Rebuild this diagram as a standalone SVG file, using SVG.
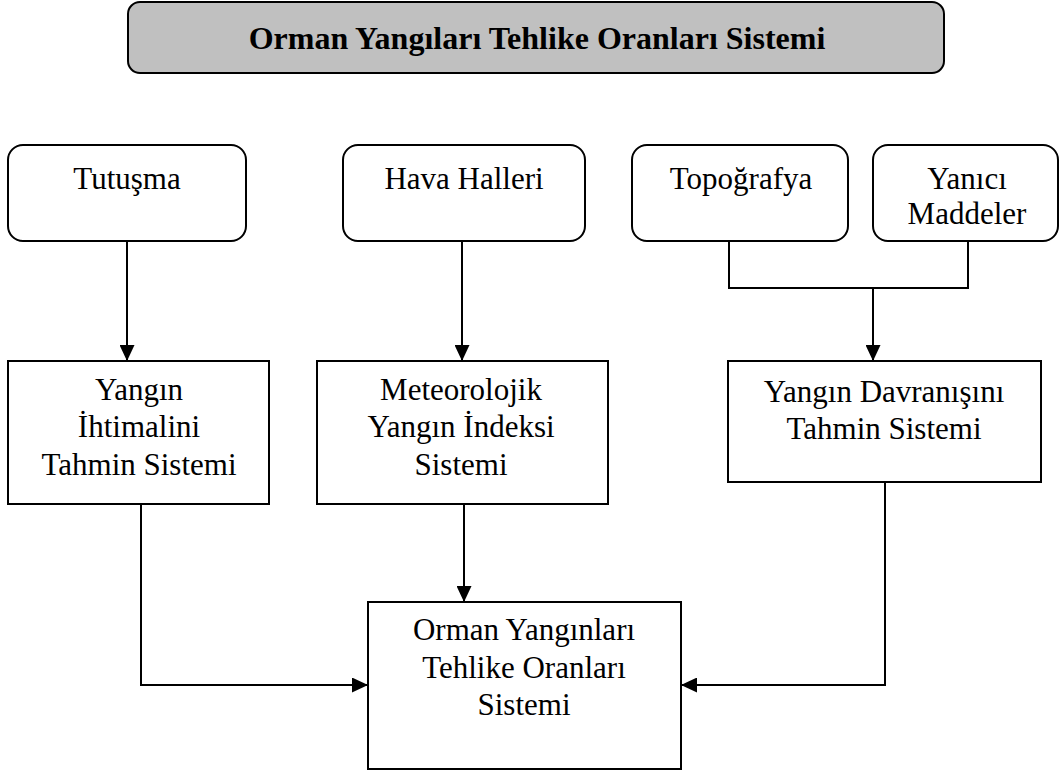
<svg xmlns="http://www.w3.org/2000/svg" width="1059" height="772" viewBox="0 0 1059 772">
<style>
.box{fill:#fff;stroke:#000;stroke-width:2}
.title{fill:#c0c0c0;stroke:#000;stroke-width:2}
.t{font-family:"Liberation Serif","Times New Roman",serif;font-size:31px;fill:#000;text-anchor:middle}
.tb{font-family:"Liberation Serif","Times New Roman",serif;font-size:32px;font-weight:bold;fill:#000;text-anchor:middle}
.c{fill:none;stroke:#000;stroke-width:2}
</style>
<defs>
<marker id="arr" markerUnits="userSpaceOnUse" markerWidth="16" markerHeight="15" refX="16" refY="7.5" orient="auto">
<path d="M0,0 L16,7.5 L0,15 z" fill="#000"/>
</marker>
</defs>
<rect width="1059" height="772" fill="#fff"/>
<g id="title">
<rect class="title" x="128" y="2" width="816" height="71" rx="12"/>
<text class="tb" x="537" y="49">Orman Yangıları Tehlike Oranları Sistemi</text>
</g>
<g id="connectors">
<path class="c" d="M127,241 V361" marker-end="url(#arr)"/>
<path class="c" d="M462,241 V361" marker-end="url(#arr)"/>
<path class="c" d="M729,241 V288 H968 V241"/>
<path class="c" d="M873,288 V361" marker-end="url(#arr)"/>
<path class="c" d="M464,504 V602" marker-end="url(#arr)"/>
<path class="c" d="M141,504 V685 H368" marker-end="url(#arr)"/>
<path class="c" d="M885,482 V685 H681" marker-end="url(#arr)"/>
</g>
<g id="tutusma">
<rect class="box" x="8" y="145" width="238" height="96" rx="15"/>
<text class="t" x="127" y="189">Tutuşma</text>
</g>
<g id="hava">
<rect class="box" x="343" y="145" width="242" height="96" rx="15"/>
<text class="t" x="464" y="189">Hava Halleri</text>
</g>
<g id="topografya">
<rect class="box" x="632" y="145" width="216" height="96" rx="15"/>
<text class="t" x="741" y="189">Topoğrafya</text>
</g>
<g id="yanici">
<rect class="box" x="873" y="145" width="185" height="96" rx="15"/>
<text class="t" x="967" y="189">Yanıcı</text>
<text class="t" x="967" y="224">Maddeler</text>
</g>
<g id="ihtimal">
<rect class="box" x="8" y="361" width="261" height="143"/>
<text class="t" x="139" y="400">Yangın</text>
<text class="t" x="139" y="437">İhtimalini</text>
<text class="t" x="139" y="475">Tahmin Sistemi</text>
</g>
<g id="meteoroloji">
<rect class="box" x="317" y="361" width="291" height="143"/>
<text class="t" x="461" y="400">Meteorolojik</text>
<text class="t" x="461" y="437">Yangın İndeksi</text>
<text class="t" x="461" y="475">Sistemi</text>
</g>
<g id="davranis">
<rect class="box" x="728" y="361" width="313" height="121"/>
<text class="t" x="884" y="402">Yangın Davranışını</text>
<text class="t" x="884" y="439">Tahmin Sistemi</text>
</g>
<g id="sonuc">
<rect class="box" x="368" y="602" width="313" height="167"/>
<text class="t" x="524" y="640">Orman Yangınları</text>
<text class="t" x="524" y="678">Tehlike Oranları</text>
<text class="t" x="524" y="715">Sistemi</text>
</g>
</svg>
